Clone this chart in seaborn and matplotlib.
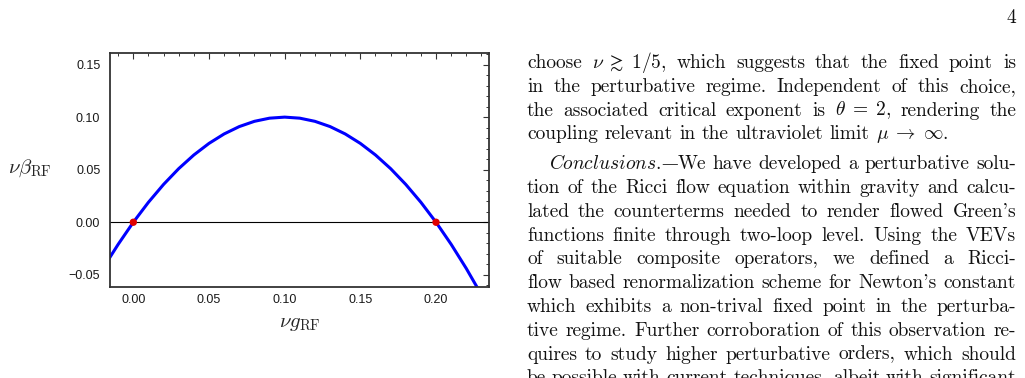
import re
import matplotlib
matplotlib.use("Agg")
import matplotlib.pyplot as plt
import matplotlib.ticker as mticker
import seaborn as sns

# curve: nu*beta_RF against nu*g_RF
g_vals = [-0.016, -0.01, 0.0, 0.01, 0.02, 0.03, 0.04, 0.05, 0.06, 0.07, 0.08, 0.09, 0.10,
          0.11, 0.12, 0.13, 0.14, 0.15, 0.16, 0.17, 0.18, 0.19, 0.20, 0.21, 0.22, 0.23]
beta_vals = [-0.0346, -0.021, 0.0, 0.019, 0.036, 0.051, 0.064, 0.075, 0.084, 0.091, 0.096, 0.099, 0.100,
             0.099, 0.096, 0.091, 0.084, 0.075, 0.064, 0.051, 0.036, 0.019, 0.0, -0.021, -0.044, -0.069]

# fixed points (red dots)
fp_g = [0.0, 0.2]
fp_beta = [0.0, 0.0]

x_ticks = [0.00, 0.05, 0.10, 0.15, 0.20]
y_ticks = [-0.05, 0.00, 0.05, 0.10, 0.15]

# page text next to the figure
page_number = "4"
para1 = [
    r"choose $\nu\;\gtrsim\;1/5$, which suggests that the fixed point is",
    r"in the perturbative regime. Independent of this choice,",
    r"the associated critical exponent is $\theta\;=\;2$, rendering the",
    r"coupling relevant in the ultraviolet limit $\mu\;\to\;\infty$.",
]
para2 = [
    "$\\mathit{Conclusions.}$\u2014We have developed a perturbative solu-",
    r"tion of the Ricci flow equation within gravity and calcu-",
    r"lated the counterterms needed to render flowed Green's",
    r"functions finite through two-loop level. Using the VEVs",
    r"of suitable composite operators, we defined a Ricci-",
    r"flow based renormalization scheme for Newton's constant",
    r"which exhibits a non-trival fixed point in the perturba-",
    r"tive regime. Further corroboration of this observation re-",
    r"quires to study higher perturbative orders, which should",
    r"be possible with current techniques, albeit with significant",
]

sns.set_style("white")
plt.rcParams["font.family"] = ["Liberation Sans", "DejaVu Sans"]
plt.rcParams["mathtext.fontset"] = "cm"

W_PX, H_PX = 1025, 378
fig = plt.figure(figsize=(W_PX / 100, H_PX / 100), dpi=100)
ax = fig.add_axes([110 / W_PX, 1 - 287 / H_PX, 379 / W_PX, 234 / H_PX])

ax.axhline(0, color="black", lw=0.8, zorder=1)
sns.lineplot(x=g_vals, y=beta_vals, color="#0000ff", lw=2.2, sort=False, ax=ax, zorder=2)
sns.scatterplot(x=fp_g, y=fp_beta, color="#e00000", s=28, edgecolor="none", zorder=5, ax=ax)

ax.set_xlim(-0.0154, 0.235)
ax.set_ylim(-0.0616, 0.161)
ax.set_xticks(x_ticks)
ax.set_yticks(y_ticks)
ax.xaxis.set_minor_locator(mticker.MultipleLocator(0.01))
ax.yaxis.set_minor_locator(mticker.MultipleLocator(0.01))
fmt = mticker.FuncFormatter(lambda v, p: f"{v:.2f}".replace("-", "\u2212"))
ax.xaxis.set_major_formatter(fmt)
ax.yaxis.set_major_formatter(fmt)
ax.tick_params(which="both", direction="in", top=True, right=True,
               color="#333333", labelcolor="#1a1a1a", labelsize=9)
ax.tick_params(which="major", length=4, width=0.8)
ax.tick_params(which="minor", length=2.2, width=0.7)
ax.tick_params(axis="y", pad=7)
ax.tick_params(axis="x", pad=5)
for sp in ax.spines.values():
    sp.set_linewidth(1.3)
    sp.set_color("#333333")

ax.set_ylabel(r"$\nu\beta_{\rm RF}$", rotation=0, fontsize=15, ha="center", va="center")
ax.yaxis.set_label_coords(-0.211, 0.509)
ax.set_xlabel(r"$\nu g_{\rm RF}$", fontsize=15, va="center")
ax.xaxis.set_label_coords(0.5, -0.154)

# body text, justified like the two-column page
body_font = dict(family=["cmr10", "DejaVu Serif"], size=14, color="#111111")
dash_font = dict(family="DejaVu Serif", size=12, color="#111111")
renderer = fig.canvas.get_renderer()
x_left, x_right = 527, 1016
space_px = 6.5


def make_word(tok, yf):
    # cmr10 has no usable em dash, so that glyph comes from another font
    objs = []
    for k, part in enumerate(tok.split("\u2014")):
        if k > 0:
            objs.append(fig.text(0, yf, "\u2014", va="baseline", **dash_font))
        if part:
            objs.append(fig.text(0, yf, part, va="baseline", **body_font))
    return objs


def draw_line(s, y, indent=0, justify=True):
    yf = 1 - y / H_PX
    toks = re.findall(r"(?:\$[^$]*\$|\S)+", s)
    words = [make_word(t, yf) for t in toks]
    widths = [[o.get_window_extent(renderer).width for o in w] for w in words]
    total = sum(sum(w) for w in widths)
    x0 = x_left + indent
    gap = space_px
    if justify and len(toks) > 1:
        gap = (x_right - x0 - total) / (len(toks) - 1)
    x = x0
    for objs, ws in zip(words, widths):
        for o, w in zip(objs, ws):
            o.set_x(x / W_PX)
            x += w
        x += gap


fig.text(x_right / W_PX, 1 - 23 / H_PX, page_number, ha="right", va="baseline", **body_font)

y = 68.0
pitch = 23.8
for i, line in enumerate(para1):
    draw_line(line, y, justify=(i < len(para1) - 1))
    y += pitch
y += 6
for i, line in enumerate(para2):
    draw_line(line, y, indent=(22 if i == 0 else 0), justify=True)
    y += pitch

fig.savefig("out.png", dpi=100)
